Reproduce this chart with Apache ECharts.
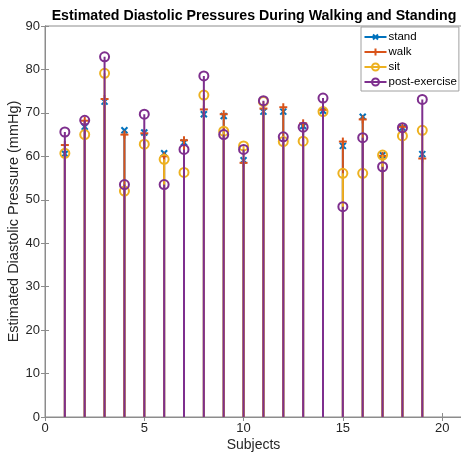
<!DOCTYPE html>
<html>
<head>
<meta charset="utf-8">
<style>
  html, body { margin: 0; padding: 0; background: #fff; }
  #chart { width: 461px; height: 459px; }
</style>
<script src="https://cdn.jsdelivr.net/npm/echarts@6/dist/echarts.min.js"></script>
</head>
<body>
<div id="chart"></div>
<script>
  var subjects = [1, 2, 3, 4, 5, 6, 7, 8, 9, 10, 11, 12, 13, 14, 15, 16, 17, 18, 19];
  var stand = [60.6, 66.8, 72.6, 66.0, 65.5, 60.7, 63.2, 69.7, 69.3, 59.1, 70.3, 70.3, 67.0, 70.5, 62.4, 69.1, 60.3, 66.6, 60.5];
  var walk  = [62.6, 68.2, 73.2, 65.0, 65.3, 60.0, 63.7, 70.8, 69.7, 58.5, 71.0, 71.3, 67.6, 70.7, 63.4, 68.5, 60.1, 66.8, 59.5];
  var sit   = [60.7, 65.0, 79.1, 52.0, 62.8, 59.3, 56.3, 74.1, 65.8, 62.4, 72.6, 63.4, 63.5, 70.3, 56.1, 56.1, 60.3, 64.7, 66.0];
  var post  = [65.6, 68.3, 82.9, 53.5, 69.7, 53.5, 61.6, 78.5, 65.0, 61.6, 72.8, 64.5, 66.7, 73.4, 48.4, 64.3, 57.6, 66.6, 73.1];
  var yTicks = [0, 10, 20, 30, 40, 50, 60, 70, 80, 90];

  var colors = { stand: '#0072BD', walk: '#D95319', sit: '#EDB120', post: '#7E2F8E' };

  function pairs(vals) {
    return subjects.map(function (s, i) { return [s, vals[i]]; });
  }

  function markerShapes(kind, cx, cy, color) {
    var st = { stroke: color, lineWidth: 2, fill: null };
    if (kind === 'circle') {
      return [{ type: 'circle', shape: { cx: cx, cy: cy, r: 4.5 }, style: { stroke: color, lineWidth: 2, fill: 'rgba(0,0,0,0)' } }];
    }
    var d = kind === 'x' ? 3 : 4;
    if (kind === 'x') {
      return [
        { type: 'line', shape: { x1: cx - d, y1: cy - d, x2: cx + d, y2: cy + d }, style: st },
        { type: 'line', shape: { x1: cx - d, y1: cy + d, x2: cx + d, y2: cy - d }, style: st }
      ];
    }
    return [
      { type: 'line', shape: { x1: cx - d, y1: cy, x2: cx + d, y2: cy }, style: st },
      { type: 'line', shape: { x1: cx, y1: cy - d, x2: cx, y2: cy + d }, style: st }
    ];
  }

  function stem(name, vals, color, kind) {
    return {
      name: name,
      type: 'custom',
      data: pairs(vals),
      itemStyle: { color: color },
      clip: false,
      renderItem: function (params, api) {
        var top = api.coord([api.value(0), api.value(1)]);
        var base = api.coord([api.value(0), 0]);
        var children = [{
          type: 'line',
          shape: { x1: top[0], y1: base[1], x2: top[0], y2: top[1] },
          style: { stroke: color, lineWidth: 2 }
        }].concat(markerShapes(kind, top[0], top[1], color));
        return { type: 'group', children: children };
      }
    };
  }

  // legend icons: line with marker in the middle
  var iconCircle = 'path://M0,5L22,5M14.5,5A3.5,3.5,0,1,1,7.5,5A3.5,3.5,0,1,1,14.5,5';
  var iconX = 'path://M0,4L22,4M8.5,1.5L13.5,6.5M13.5,1.5L8.5,6.5';
  var iconPlus = 'path://M0,4L22,4M11,0.5L11,7.5';

  function legendItem(name, icon, color) {
    return { name: name, icon: icon, itemStyle: { color: 'none', borderColor: color, borderWidth: 2 } };
  }

  var font = 'Liberation Sans, Arial, Helvetica, sans-serif';
  var chart = echarts.init(document.getElementById('chart'));
  chart.setOption({
    animation: false,
    textStyle: { fontFamily: font },
    title: {
      text: 'Estimated Diastolic Pressures During Walking and Standing',
      left: 249, top: 4, textAlign: 'center',
      textStyle: { fontSize: 14.2, fontWeight: 'bold', color: '#000', fontFamily: font }
    },
    legend: {
      orient: 'vertical',
      left: 361, top: 27,
      padding: [4, 2, 3, 1],
      itemGap: 3,
      itemWidth: 22, itemHeight: 10,
      backgroundColor: '#fff',
      borderColor: '#a0a0a0', borderWidth: 1,
      textStyle: { fontSize: 11.5, color: '#000', fontFamily: font, padding: [0, 0, 0, -3], lineHeight: 12 },
      data: [
        legendItem('stand', iconX, colors.stand),
        legendItem('walk', iconPlus, colors.walk),
        legendItem('sit', iconCircle, colors.sit),
        legendItem('post-exercise', iconCircle, colors.post)
      ]
    },
    grid: { left: 45, right: -1, top: 26, bottom: 42, outerBoundsMode: 'none', show: true, borderColor: '#8c8c8c', borderWidth: 1 },
    xAxis: [{
      type: 'value', min: 0, max: 21, interval: 5,
      name: 'Subjects', nameLocation: 'middle', nameGap: 21, nameMoveOverlap: false,
      nameTextStyle: { fontSize: 14, color: '#262626', fontFamily: font },
      axisLine: { show: true, lineStyle: { color: '#8c8c8c' } },
      axisTick: { show: true, inside: true, length: 4, lineStyle: { color: '#8c8c8c' } },
      axisLabel: { fontSize: 13, color: '#262626', margin: 5, showMaxLabel: false },
      splitLine: { show: false }
    }, {
      type: 'value', position: 'top', min: 0, max: 21, interval: 5,
      axisLine: { show: true, lineStyle: { color: '#8c8c8c' } },
      axisTick: { show: true, inside: true, length: 4, lineStyle: { color: '#8c8c8c' } },
      axisLabel: { show: false },
      splitLine: { show: false }
    }],
    yAxis: [{
      type: 'value', min: yTicks[0], max: yTicks[yTicks.length - 1], interval: 10,
      name: 'Estimated Diastolic Pressure (mmHg)', nameLocation: 'middle', nameGap: 24, nameMoveOverlap: false,
      nameTextStyle: { fontSize: 14.5, color: '#262626', fontFamily: font },
      axisLine: { show: true, lineStyle: { color: '#8c8c8c' } },
      axisTick: { show: true, inside: true, length: 4, lineStyle: { color: '#8c8c8c' } },
      axisLabel: { fontSize: 13, color: '#262626', margin: 5 },
      splitLine: { show: false }
    }, {
      type: 'value', position: 'right', min: 0, max: 90, interval: 10,
      axisLine: { show: true, lineStyle: { color: '#8c8c8c' } },
      axisTick: { show: true, inside: true, length: 4, lineStyle: { color: '#8c8c8c' } },
      axisLabel: { show: false },
      splitLine: { show: false }
    }],
    series: [
      stem('stand', stand, colors.stand, 'x'),
      stem('walk', walk, colors.walk, 'plus'),
      stem('sit', sit, colors.sit, 'circle'),
      stem('post-exercise', post, colors.post, 'circle')
    ]
  });
</script>
</body>
</html>
